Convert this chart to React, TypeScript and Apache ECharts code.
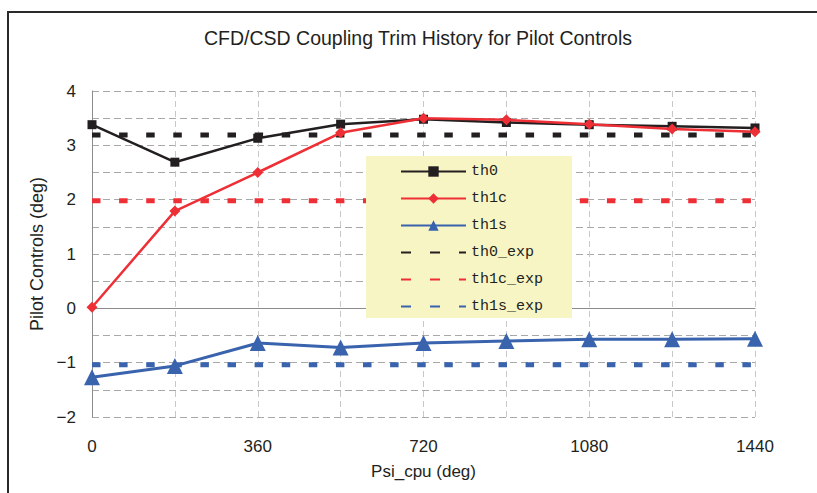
import React, { useEffect, useRef } from "react";
import * as echarts from "echarts";

// Azimuth (deg) of each coupling iteration
const psiCpu = [0, 180, 360, 540, 720, 900, 1080, 1260, 1440];

// Computed trim controls (deg)
const th0 = [3.38, 2.69, 3.13, 3.39, 3.48, 3.42, 3.38, 3.35, 3.32];
const th1c = [0.02, 1.79, 2.5, 3.23, 3.5, 3.47, 3.39, 3.3, 3.25];
const th1s = [-1.27, -1.06, -0.64, -0.72, -0.64, -0.6, -0.57, -0.57, -0.56];

// Flight-test reference controls (deg)
const th0Exp = [3.19, 3.19, 3.19, 3.19, 3.19, 3.19, 3.19, 3.19, 3.19];
const th1cExp = [1.98, 1.98, 1.98, 1.98, 1.98, 1.98, 1.98, 1.98, 1.98];
const th1sExp = [-1.04, -1.04, -1.04, -1.04, -1.04, -1.04, -1.04, -1.04, -1.04];

const xTickLabels = [0, 360, 720, 1080, 1440];

const BLACK = "#231F20";
const RED = "#EE2F36";
const BLUE = "#3A63AE";
const FONT = "'Liberation Sans', Arial, sans-serif";

const pairs = (ys: number[]) => psiCpu.map((x, i) => [x, ys[i]]);

export default function App() {
  const ref = useRef<HTMLDivElement>(null);

  useEffect(() => {
    if (!ref.current) return;
    const chart = echarts.init(ref.current, null, { renderer: "svg" });

    const solid = (name: string, ys: number[], color: string, symbol: string, size: number, width: number) => ({
      name,
      type: "line",
      data: pairs(ys),
      symbol,
      symbolSize: size,
      color,
      itemStyle: { color },
      lineStyle: { color, width },
      z: 3,
    });
    const dashed = (name: string, ys: number[], color: string) => ({
      name,
      type: "line",
      data: pairs(ys),
      symbol: "none",
      color,
      lineStyle: { color, width: 5, type: [8.5, 18.6], cap: "butt" },
      z: 2,
    });

    chart.setOption({
      animation: false,
      title: {
        text: "CFD/CSD Coupling Trim History for Pilot Controls",
        left: 204,
        top: 28,
        padding: 0,
        textStyle: { fontFamily: FONT, fontSize: 19.5, fontWeight: "normal", color: BLACK },
      },
      grid: { left: 92, right: 62, top: 91, bottom: 76, containLabel: false },
      xAxis: {
        type: "value",
        min: 0,
        max: 1440,
        interval: 180,
        name: "Psi_cpu (deg)",
        nameLocation: "middle",
        nameGap: 46,
        nameTextStyle: { fontFamily: FONT, fontSize: 17, color: BLACK },
        axisLine: { show: true, lineStyle: { color: "#8c8c8c", width: 1 } },
        axisTick: { show: false },
        axisLabel: {
          margin: 21,
          fontFamily: FONT,
          fontSize: 17,
          color: BLACK,
          formatter: (v: number) => (xTickLabels.includes(v) ? String(v) : ""),
        },
        splitLine: { show: true, lineStyle: { color: "#c8c8c8", width: 1, type: [6, 4] } },
      },
      yAxis: {
        type: "value",
        min: -2,
        max: 4,
        interval: 0.5,
        name: "Pilot Controls (deg)",
        nameLocation: "middle",
        nameGap: 41,
        nameTextStyle: { fontFamily: FONT, fontSize: 18, color: BLACK },
        axisLine: { show: true, lineStyle: { color: "#8c8c8c", width: 1 } },
        axisTick: { show: false },
        axisLabel: {
          margin: 16,
          fontFamily: FONT,
          fontSize: 17,
          color: BLACK,
          formatter: (v: number) =>
            Number.isInteger(v) ? (v < 0 ? "\u2212" + Math.abs(v) : String(v)) : "",
        },
        splitLine: { show: true, lineStyle: { color: "#a8a8a8", width: 1, type: [7, 4] } },
      },
      legend: {
        orient: "vertical",
        left: 366,
        top: 156,
        padding: [8, 29, 4, 34],
        backgroundColor: "#F8F5C5",
        itemWidth: 65,
        itemHeight: 13,
        itemGap: 12,
        z: 10,
        textStyle: {
          fontFamily: "'Liberation Mono', 'DejaVu Sans Mono', monospace",
          fontSize: 15,
          color: BLACK,
          lineHeight: 13,
        },
        data: [
          { name: "th0" },
          { name: "th1c" },
          { name: "th1s" },
          { name: "th0_exp", itemStyle: { opacity: 0 }, lineStyle: { type: [10, 19] } },
          { name: "th1c_exp", itemStyle: { opacity: 0 }, lineStyle: { type: [10, 19] } },
          { name: "th1s_exp", itemStyle: { opacity: 0 }, lineStyle: { type: [10, 19] } },
        ],
      },
      graphic: [
        // outer frame (left and top edges fall inside the canvas)
        {
          type: "polyline",
          z: 100,
          shape: { points: [[8, 493], [8, 12], [817, 12]] },
          style: { fill: "none", stroke: "#2a2a2a", lineWidth: 2 },
          silent: true,
        },
      ],
      series: [
        dashed("th0_exp", th0Exp, BLACK),
        dashed("th1c_exp", th1cExp, RED),
        dashed("th1s_exp", th1sExp, BLUE),
        solid("th0", th0, BLACK, "rect", 9, 2.5),
        solid("th1c", th1c, RED, "diamond", 11, 2.5),
        solid("th1s", th1s, BLUE, "triangle", 16, 3),
      ],
    });

    return () => chart.dispose();
  }, []);

  return (
    <div
      ref={ref}
      style={{ position: "absolute", left: 0, top: 0, width: 817, height: 493, background: "#ffffff" }}
    />
  );
}
